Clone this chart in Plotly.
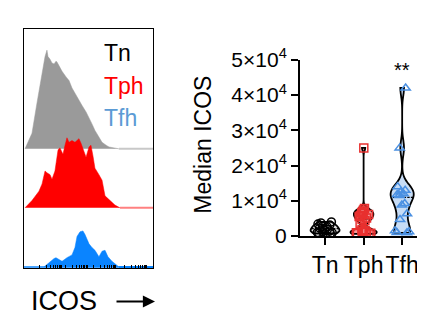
import plotly.graph_objects as go
import math

W, H = 425, 322

# ---------------- histogram data (ICOS channel, arbitrary units 0-100) ----------------
tn_hist_x = [0.8, 3.1, 6.2, 10.1, 14.0, 16.3, 17.8, 18.6, 20.2, 21.7, 23.3, 24.8, 25.6, 27.1, 29.5,
             32.6, 34.9, 37.2, 39.5, 42.6, 45.0, 48.1, 50.4, 52.7, 55.0, 58.1, 60.5, 63.6, 65.9, 69.8, 73.6]
tn_hist_n = [0, 8, 17, 50, 84, 100, 107, 100, 97, 93, 92, 95, 94, 90, 84,
             78, 74, 66, 60, 52, 47, 40, 34, 27, 20, 13, 7, 4, 2, 1, 0]

tph_hist_x = [0.8, 6.2, 11.6, 14.0, 16.3, 17.8, 20.2, 21.7, 24.0, 26.4, 27.9, 30.2, 31.8, 33.3, 34.9,
              37.2, 39.5, 42.6, 44.2, 46.5, 48.1, 50.4, 51.9, 53.5, 55.0, 58.1, 60.5, 62.8, 66.7, 70.5, 74.4]
tph_hist_n = [0, 8, 18, 26, 40, 38, 36, 31, 40, 63, 65, 58, 68, 76, 71,
              73, 71, 75, 70, 60, 55, 66, 68, 56, 43, 36, 30, 13, 8, 3, 0]

tfh_hist_x = [15.5, 19.4, 23.3, 24.8, 27.1, 29.5, 33.3, 37.2, 39.5, 41.1, 43.4, 45.7, 47.3, 50.4,
              52.7, 55.0, 58.1, 60.5, 62.8, 65.1, 68.2, 72.1, 73.6]
tfh_hist_n = [0, 5, 9, 10, 8, 6, 10, 13, 21, 33, 38, 39, 35, 25,
              21, 18, 11, 17, 18, 11, 6, 2, 0]

# ---------------- violin data (median ICOS per sample) ----------------
groups = ["Tn", "Tph", "Tfh"]
tn_vals = [4000, 3700, 3400, 3100, 2800, 2600, 2300, 2100, 1900, 1600, 1400, 1200, 1000, 900, 800, 700]
tph_vals = [25000, 7800, 7400, 7000, 6700, 6400, 6100, 5800, 5500, 5100, 4700, 4300, 3600,
            1800, 1500, 1300, 1100, 1000, 900, 800, 700, 600]
tfh_vals = [42000, 25000, 14000, 13000, 12500, 12000, 11800, 11500, 9200, 8800, 6300, 4700,
            1500, 1200, 1000, 900]

y_tickvals = [0, 10000, 20000, 30000, 40000, 50000]
y_ticktext = ["0", "1×10<sup>4</sup>", "2×10<sup>4</sup>", "3×10<sup>4</sup>",
              "4×10<sup>4</sup>", "5×10<sup>4</sup>"]

# bottom tick marks of the flow axis (log decades)
facs_ticks = [s + 18 * math.log10(k) for s in (12, 32, 54, 78) for k in range(1, 10)]

fig = go.Figure()

rows = [  # (x, counts, baseline, fill, tail colour)
    (tn_hist_x, tn_hist_n, 128, "#9a9a9a", "#c8c8c8"),
    (tph_hist_x, tph_hist_n, 64, "#ff0000", "#ff8080"),
    (tfh_hist_x, tfh_hist_n, 0, "#0a84ff", "#0a84ff"),
]
for xs, ns, base, col, tail in rows:
    fig.add_trace(go.Scatter(x=[xs[-1], 100], y=[base, base], mode="lines",
                             line=dict(color=tail, width=2), xaxis="x", yaxis="y",
                             hoverinfo="skip", showlegend=False))
    fig.add_trace(go.Scatter(x=xs, y=[base + n for n in ns], mode="lines", fill="toself",
                             fillcolor=col, line=dict(color=col, width=0.5), xaxis="x", yaxis="y",
                             showlegend=False))
fig.add_trace(go.Scatter(x=[0, 100], y=[0, 0], mode="lines", line=dict(color="#0a84ff", width=1.5),
                         xaxis="x", yaxis="y", showlegend=False))

vio_specs = [
    ("Tn", tn_vals, "rgba(200,200,200,0.6)", "black", "circle-open", 800, 0.75, 0.7),
    ("Tph", tph_vals, "#f59a9a", "#e8302f", "square-open", 800, 0.68, 0.8),
    ("Tfh", tfh_vals, "#c7dcf5", "#4a90e2", "triangle-up-open", 2200, 0.6, 0.8),
]
for name, vals, fill, mcol, sym, bw, wd, jit in vio_specs:
    fig.add_trace(go.Violin(
        x=[name] * len(vals), y=vals, xaxis="x2", yaxis="y2",
        points="all", pointpos=0, jitter=jit, spanmode="hard", bandwidth=bw, width=wd,
        fillcolor=fill, line=dict(color="black", width=1.8),
        meanline=dict(visible=True, color="black", width=1.2),
        marker=dict(symbol=sym, size=8, color=mcol, line=dict(color=mcol, width=1.5)),
        showlegend=False, hoveron="points"))

fig.update_layout(
    width=W, height=H, margin=dict(l=0, r=0, t=0, b=0),
    paper_bgcolor="white", plot_bgcolor="white", violinmode="overlay",
    font=dict(family="Liberation Sans, Arial, sans-serif", color="black"),
    xaxis=dict(domain=[16 / W, 145 / W], range=[0, 100], showline=True, mirror=True,
               linecolor="black", linewidth=1, showgrid=False, zeroline=False,
               showticklabels=False, ticks="inside", ticklen=3, tickwidth=1, tickcolor="black",
               tickvals=facs_ticks, anchor="y"),
    yaxis=dict(domain=[55 / H, 314 / H], range=[-1.5, 257.5], showline=True, mirror=True,
               linecolor="black", linewidth=1, showgrid=False, zeroline=False,
               showticklabels=False, ticks="", anchor="x"),
    xaxis2=dict(domain=[292 / W, 420 / W], range=[-0.65, 2.67], type="category",
                categoryorder="array", categoryarray=groups, tickangle=0,
                showline=True, linecolor="black", linewidth=2, showgrid=False, zeroline=False,
                ticks="outside", ticklen=7, tickwidth=2, tickcolor="black",
                tickfont=dict(size=23), anchor="y2"),
    yaxis2=dict(domain=[90 / H, 281 / H], range=[0, 50000], showline=True, linecolor="black",
                linewidth=2, showgrid=False, zeroline=False, ticks="outside", ticklen=7,
                tickwidth=2, tickcolor="black", tickvals=y_tickvals, ticktext=y_ticktext,
                tickfont=dict(size=21), anchor="x2"),
)

ann = [
    dict(text="Tn", x=94 / W, y=1 - 34 / H, font=dict(size=23, color="black")),
    dict(text="Tph", x=94 / W, y=1 - 69 / H, font=dict(size=23, color="#ff0000")),
    dict(text="Tfh", x=94 / W, y=1 - 104 / H, font=dict(size=23, color="#5b9bd5")),
    dict(text="ICOS", x=21 / W, y=1 - 302 / H, font=dict(size=27, color="black")),
]
for a in ann:
    fig.add_annotation(xref="paper", yref="paper", xanchor="left", yanchor="middle",
                       showarrow=False, **a)
fig.add_annotation(xref="paper", yref="paper", x=147 / W, y=1 - 303 / H, text="",
                   showarrow=True, ax=-40, ay=0, arrowhead=2, arrowsize=1.1, arrowwidth=2.2,
                   arrowcolor="black", standoff=0)
fig.add_annotation(xref="paper", yref="paper", x=195 / W, y=1 - 133 / H, text="Median ICOS",
                   textangle=-90, showarrow=False, font=dict(size=23, color="black"),
                   xanchor="center", yanchor="middle")
fig.add_annotation(xref="x2", yref="y2", x="Tfh", y=47000, text="**", showarrow=False,
                   font=dict(size=20, color="black"))

fig.write_html("out.html")
